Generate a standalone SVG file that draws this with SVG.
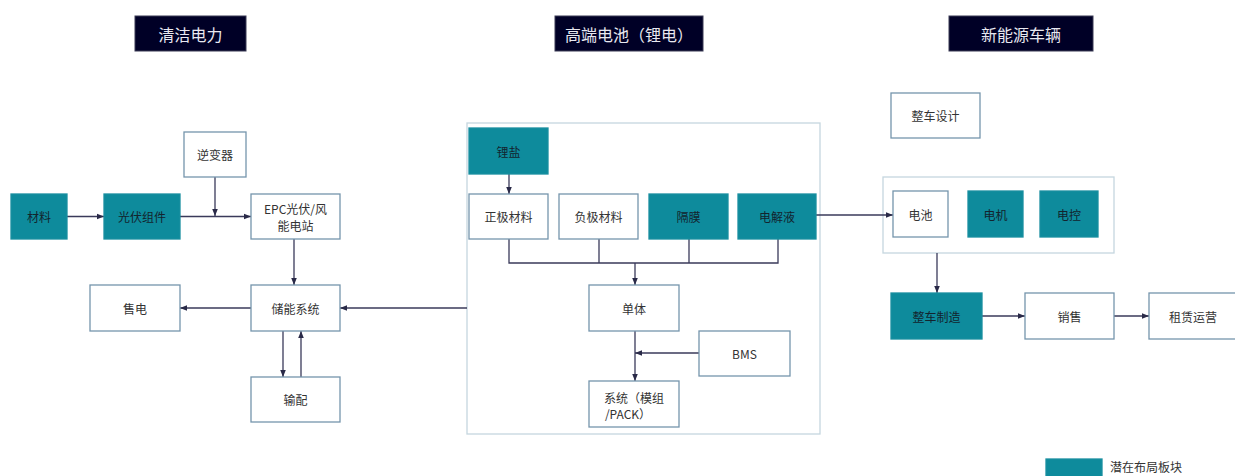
<svg xmlns="http://www.w3.org/2000/svg" width="1235" height="476" viewBox="0 0 1235 476">
<defs>
<style>
.title rect{fill:#000026;stroke:#3a3a55;stroke-width:1}
.title text{fill:#e8e8f0;font-family:"Noto Sans CJK SC","Liberation Sans",sans-serif;font-size:16px;text-anchor:middle;dominant-baseline:central}
.n rect{fill:#ffffff;stroke:#7595ac;stroke-width:1.3}
.t rect{fill:#0e8b9c;stroke:#1a8fa0;stroke-width:1.3}
.n text,.t text{fill:#333333;font-family:"Noto Sans CJK SC","Liberation Sans",sans-serif;font-size:12px;text-anchor:middle;dominant-baseline:central}
.t text{fill:#13242e}
.box{fill:none;stroke:#c5d6df;stroke-width:1.3}
.c{stroke:#3a3a5a;stroke-width:1.3;fill:none}
.ca{stroke:#3a3a5a;stroke-width:1.3;fill:none;marker-end:url(#ah)}
</style>
<marker id="ah" viewBox="0 0 10 10" refX="10" refY="5" markerWidth="7" markerHeight="7" markerUnits="userSpaceOnUse" orient="auto">
<path d="M0,1 L10,5 L0,9 Z" fill="#2a2a48"/>
</marker>
</defs>

<g id="titles">
<g id="title-clean" class="title"><rect x="135" y="16" width="111" height="35"/><text x="190.5" y="33.5">清洁电力</text></g>
<g id="title-battery" class="title"><rect x="555" y="16" width="148" height="35"/><text x="629" y="33.5">高端电池（锂电）</text></g>
<g id="title-vehicle" class="title"><rect x="949" y="16" width="144" height="35"/><text x="1021" y="33.5">新能源车辆</text></g>
</g>

<g id="containers">
<rect id="battery-box" class="box" x="467" y="123" width="353" height="311"/>
<rect id="vehicle-box" class="box" x="883" y="177" width="231" height="76"/>
</g>

<g id="connectors">
<line class="ca" x1="67" y1="216.5" x2="104" y2="216.5"/>
<line class="ca" x1="180" y1="216.5" x2="251" y2="216.5"/>
<line class="ca" x1="215" y1="177" x2="215" y2="216"/>
<line class="ca" x1="294" y1="239" x2="294" y2="285"/>
<line class="ca" x1="251" y1="308" x2="180" y2="308"/>
<line class="ca" x1="467" y1="308" x2="340" y2="308"/>
<line class="ca" x1="283" y1="331" x2="283" y2="377"/>
<line class="ca" x1="301" y1="377" x2="301" y2="331"/>
<line class="ca" x1="509" y1="174" x2="509" y2="194"/>
<polyline class="c" points="509,239 509,263 778,263 778,239"/>
<line class="c" x1="599" y1="239" x2="599" y2="263"/>
<line class="c" x1="689" y1="239" x2="689" y2="263"/>
<line class="ca" x1="635" y1="263" x2="635" y2="285"/>
<line class="ca" x1="635" y1="331" x2="635" y2="381"/>
<line class="ca" x1="699" y1="353" x2="635" y2="353"/>
<line class="ca" x1="816" y1="215" x2="893" y2="215"/>
<line class="ca" x1="937" y1="253" x2="937" y2="293"/>
<line class="ca" x1="982" y1="316" x2="1025" y2="316"/>
<line class="ca" x1="1114" y1="316" x2="1149" y2="316"/>
</g>

<g id="n-materials" class="t"><rect x="11" y="194" width="56" height="45"/><text x="39" y="216.5">材料</text></g>
<g id="n-pv" class="t"><rect x="104" y="194" width="76" height="45"/><text x="142" y="216.5">光伏组件</text></g>
<g id="n-inverter" class="n"><rect x="184" y="132" width="62" height="45"/><text x="215" y="154.5">逆变器</text></g>
<g id="n-epc" class="n"><rect x="251" y="194" width="89" height="45"/><text x="295.5" y="208.5">EPC光伏/风</text><text x="295.5" y="225">能电站</text></g>
<g id="n-sell" class="n"><rect x="90" y="285" width="90" height="46"/><text x="135" y="308">售电</text></g>
<g id="n-storage" class="n"><rect x="251" y="285" width="89" height="46"/><text x="295.5" y="308">储能系统</text></g>
<g id="n-grid" class="n"><rect x="251" y="377" width="89" height="45"/><text x="295.5" y="399.5">输配</text></g>

<g id="n-lisalt" class="t"><rect x="469" y="128" width="79" height="46"/><text x="508.5" y="151">锂盐</text></g>
<g id="n-cathode" class="n"><rect x="469" y="194" width="79" height="45"/><text x="508.5" y="216.5">正极材料</text></g>
<g id="n-anode" class="n"><rect x="559" y="194" width="79" height="45"/><text x="598.5" y="216.5">负极材料</text></g>
<g id="n-separator" class="t"><rect x="649" y="194" width="79" height="45"/><text x="688.5" y="216.5">隔膜</text></g>
<g id="n-electrolyte" class="t"><rect x="738" y="194" width="78" height="45"/><text x="777" y="216.5">电解液</text></g>
<g id="n-cell" class="n"><rect x="589" y="285" width="90" height="46"/><text x="634" y="308">单体</text></g>
<g id="n-bms" class="n"><rect x="699" y="331" width="91" height="45"/><text x="744.5" y="353.5">BMS</text></g>
<g id="n-pack" class="n"><rect x="589" y="381" width="90" height="46"/><text x="634" y="397">系统（模组</text><text x="628" y="413">/PACK）</text></g>

<g id="n-design" class="n"><rect x="891" y="93" width="89" height="45"/><text x="935.5" y="115.5">整车设计</text></g>
<g id="n-vbattery" class="n"><rect x="893" y="191" width="55" height="46"/><text x="920.5" y="214">电池</text></g>
<g id="n-motor" class="t"><rect x="968" y="191" width="55" height="46"/><text x="995.5" y="214">电机</text></g>
<g id="n-control" class="t"><rect x="1040" y="191" width="58" height="46"/><text x="1069" y="214">电控</text></g>
<g id="n-manufacture" class="t"><rect x="891" y="293" width="91" height="46"/><text x="936.5" y="316">整车制造</text></g>
<g id="n-sales" class="n"><rect x="1025" y="293" width="89" height="46"/><text x="1069.5" y="316">销售</text></g>
<g id="n-leasing" class="n"><rect x="1149" y="293" width="88" height="46"/><text x="1193" y="316">租赁运营</text></g>

<g id="legend" class="t"><rect x="1046" y="459" width="56" height="22"/><text x="1110" y="466.5" style="text-anchor:start;fill:#333333">潜在布局板块</text></g>
</svg>
